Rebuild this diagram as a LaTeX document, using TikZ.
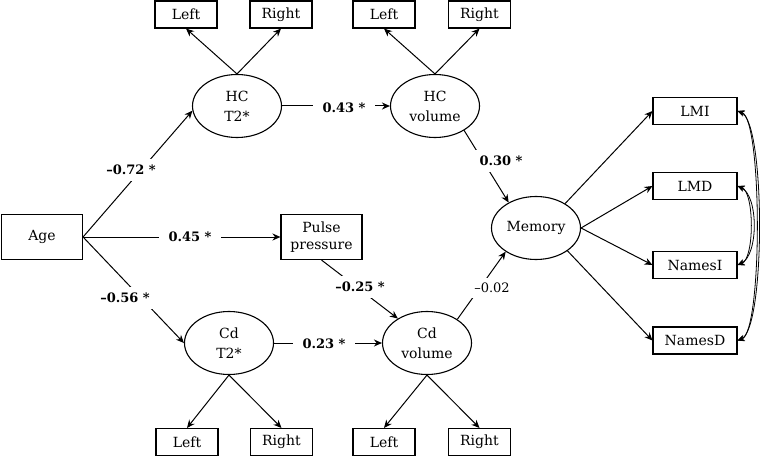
\documentclass[tikz,border=0pt]{standalone}
\usepackage{fontspec}
\setmainfont{DejaVu Serif}
\usetikzlibrary{arrows.meta,shapes.geometric}
\begin{document}
\begin{tikzpicture}[x=1pt,y=-1pt,
  box/.style={draw, line width=1.1pt, inner sep=0pt, align=center, font=\fontsize{14}{17}\selectfont},
  sbox/.style={box, minimum width=62pt, minimum height=27pt},
  mbox/.style={box, minimum width=84pt, minimum height=27pt},
  bbox/.style={box, minimum width=81pt, minimum height=45pt},
  lat/.style={draw, ellipse, line width=1.1pt, minimum width=89pt, minimum height=63pt, inner sep=0pt, align=center, font=\fontsize{14}{20}\selectfont},
  arr/.style={-{Stealth[length=8pt,width=7pt]}, line width=1pt},
  darr/.style={{Stealth[length=7pt,width=6pt]}-{Stealth[length=7pt,width=6pt]}, line width=0.8pt},
  coef/.style={fill=white, inner xsep=10pt, inner ysep=6pt, font=\fontsize{13}{15}\selectfont\bfseries},
  ncoef/.style={fill=white, inner xsep=4pt, inner ysep=5pt, font=\fontsize{13}{15}\selectfont},
]
\useasboundingbox (0,0) rectangle (760,457);

% indicator boxes
\node[sbox] (hctl) at (186,14.5) {Left};
\node[sbox] (hctr) at (281,14.5) {Right};
\node[sbox] (hcvl) at (384,14.5) {Left};
\node[sbox] (hcvr) at (479.5,14.5) {Right};
\node[sbox] (cdtl) at (187,442) {Left};
\node[sbox] (cdtr) at (281.5,442) {Right};
\node[sbox] (cdvl) at (384,442) {Left};
\node[sbox] (cdvr) at (479.5,442) {Right};

% latent variables
\node[lat] (hct2) at (237,106) {HC\\T2*};
\node[lat] (hcvol) at (435,106) {HC\\volume};
\node[lat] (mem) at (536,228) {Memory};
\node[lat] (cdt2) at (229,343) {Cd\\T2*};
\node[lat] (cdvol) at (427,343) {Cd\\volume};

% observed
\node[bbox] (age) at (42,237) {Age};
\node[bbox] (pulse) at (321.5,237) {Pulse\\pressure};
\node[mbox] (lmi) at (695,111) {LMI};
\node[mbox] (lmd) at (695,186) {LMD};
\node[mbox] (namesi) at (695,265) {NamesI};
\node[mbox] (namesd) at (695,340.5) {NamesD};

% measurement arrows
\draw[arr] (hct2.north) -- (hctl.south);
\draw[arr] (hct2.north) -- (hctr.south);
\draw[arr] (hcvol.north) -- (hcvl.south);
\draw[arr] (hcvol.north) -- (hcvr.south);
\draw[arr] (cdt2.south) -- (cdtl.north);
\draw[arr] (cdt2.south) -- (cdtr.north);
\draw[arr] (cdvol.south) -- (cdvl.north);
\draw[arr] (cdvol.south) -- (cdvr.north);

% structural paths
\draw[arr] (age.east) -- (hct2.186);
\draw[arr] (age.east) -- (pulse.west);
\draw[arr] (age.east) -- (cdt2.west);
\draw[arr] (hct2.east) -- (hcvol.west);
\draw[arr] (hcvol.320) -- (mem.137);
\draw[arr] (pulse.south) -- (cdvol.140);
\draw[arr] (cdt2.east) -- (cdvol.west);
\draw[arr] (cdvol.38) -- (mem.218);

\draw[arr] (mem.40) -- (lmi.west);
\draw[arr] (mem.east) -- (lmd.west);
\draw[arr] (mem.east) -- (namesi.west);
\draw[arr] (mem.-36) -- (namesd.west);

% correlated residuals
\draw[darr] (lmi.east) .. controls +(28,12) and +(28,-12) .. (namesd.east);
\draw[darr] (lmi.east) .. controls +(25,8) and +(25,-8) .. (namesd.east);
\draw[darr] (lmd.east) .. controls +(21,10) and +(21,-10) .. (namesi.east);
\draw[darr] (lmd.east) .. controls +(17,6) and +(17,-6) .. (namesi.east);

% coefficients
\node[coef] (c1) at (131,170) {–0.72 *};
\node[coef] (c2) at (190,237) {0.45 *};
\node[coef] (c3) at (125,298) {–0.56 *};
\node[coef] (c4) at (344,108) {0.43 *};
\node[coef] (c5) at (501,161) {0.30 *};
\node[coef] (c6) at (360,287) {–0.25 *};
\node[coef] (c7) at (324,344) {0.23 *};
\node[ncoef] (c8) at (492,288) {–0.02};
\end{tikzpicture}
\end{document}
